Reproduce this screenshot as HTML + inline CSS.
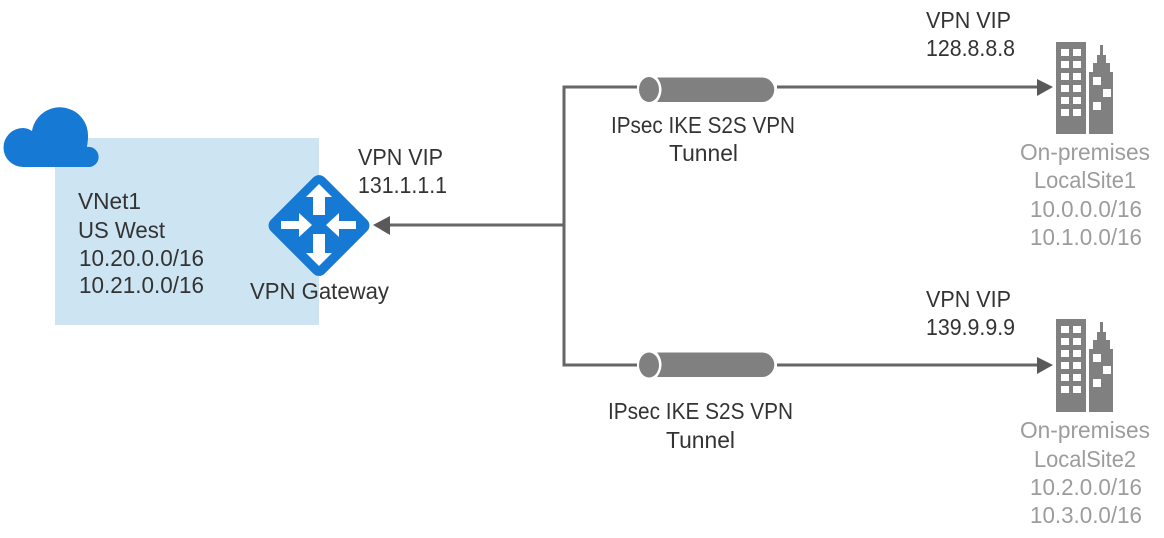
<!DOCTYPE html>
<html><head><meta charset="utf-8"><style>
html,body{margin:0;padding:0;background:#fff}
svg{display:block}
text{font-family:"Liberation Sans",sans-serif;font-size:23px;fill:#333}
text.g{fill:#9c9c9c}
</style></head><body>
<svg width="1164" height="538" viewBox="0 0 1164 538" xmlns="http://www.w3.org/2000/svg">
<rect x="55" y="138" width="264" height="187" fill="#cde4f3"/>
<path d="M23 167A19.500 19.500 0 0 1 23 128C26 128 29 129 32 131A28.200 28.200 0 0 1 88 137C88 140 87.500 143 87 147A10 10 0 0 1 90 167Z" fill="#1679d3"/>
<rect x="281" y="187.500" width="76" height="76" rx="8" transform="rotate(45 319 225.500)" fill="#1679d3"/>
<g fill="#fff">
<path d="M319 184L332 197H325V215H313V197H306Z"/>
<path d="M319 266L332 253H325V234H313V253H306Z"/>
<path d="M312 225L299 213V221H281V229H299V237Z"/>
<path d="M326 225L339 213V221H356V229H339V237Z"/>
</g>
<g fill="none" stroke="#666" stroke-width="3">
<path d="M637 87H564V365H637"/>
<path d="M564 225H385"/>
<path d="M777 87H1040"/>
<path d="M777 365H1040"/>
</g>
<g fill="#595959">
<path d="M373 225L390 216V235Z"/>
<path d="M1053 87L1037 79V96Z"/>
<path d="M1053 365L1037 357V374Z"/>
</g>
<g fill="#808080">
<ellipse cx="649" cy="89.500" rx="10" ry="12.500"/>
<path d="M657 77.500H762A12.200 12.200 0 0 1 762 102H657C663 94 663 85 657 77.500Z"/>
<ellipse cx="649" cy="365" rx="10" ry="12.500"/>
<path d="M657 352.500H762A12.200 12.200 0 0 1 762 377H657C663 369 663 360 657 352.500Z"/>
</g>
<g fill="#808080">
<rect x="1056" y="42" width="30" height="92"/>
<path d="M1089 134V72H1093V63H1097V55H1100V45H1103V55H1106V63H1110V72H1113V134Z"/>
</g>
<g fill="#fff">
<path d="M1061 49h8v7h-8zM1073 49h8v7h-8zM1061 61h8v7h-8zM1073 61h8v7h-8zM1061 73h8v7h-8zM1073 73h8v7h-8zM1061 85h8v7h-8zM1073 85h8v7h-8zM1061 97h8v7h-8zM1073 97h8v7h-8zM1061 109h8v7h-8zM1073 109h8v7h-8z"/>
<path d="M1093 77h8v8h-8zM1103 89h8v8h-8zM1093 102h8v8h-8z"/>
</g>
<g transform="translate(0,277)">
<g fill="#808080">
<rect x="1056" y="42" width="30" height="93"/>
<path d="M1089 135V72H1093V63H1097V55H1100V45H1103V55H1106V63H1110V72H1113V135Z"/>
</g>
<g fill="#fff">
<path d="M1061 49h8v7h-8zM1073 49h8v7h-8zM1061 61h8v7h-8zM1073 61h8v7h-8zM1061 73h8v7h-8zM1073 73h8v7h-8zM1061 85h8v7h-8zM1073 85h8v7h-8zM1061 97h8v7h-8zM1073 97h8v7h-8zM1061 109h8v7h-8zM1073 109h8v7h-8z"/>
<path d="M1093 77h8v8h-8zM1103 89h8v8h-8zM1093 102h8v8h-8z"/>
</g>
</g>
<text x="78" y="209" textLength="63" lengthAdjust="spacingAndGlyphs">VNet1</text>
<text x="78" y="238" textLength="87" lengthAdjust="spacingAndGlyphs">US West</text>
<text x="79" y="266" textLength="125" lengthAdjust="spacingAndGlyphs">10.20.0.0/16</text>
<text x="79" y="293" textLength="125" lengthAdjust="spacingAndGlyphs">10.21.0.0/16</text>
<text x="250" y="299" textLength="139" lengthAdjust="spacingAndGlyphs">VPN Gateway</text>
<text x="358" y="165" textLength="85" lengthAdjust="spacingAndGlyphs">VPN VIP</text>
<text x="358" y="193" textLength="89" lengthAdjust="spacingAndGlyphs">131.1.1.1</text>
<text x="611" y="133" textLength="184" lengthAdjust="spacingAndGlyphs">IPsec IKE S2S VPN</text>
<text x="669" y="161" textLength="69" lengthAdjust="spacingAndGlyphs">Tunnel</text>
<text x="608" y="419" textLength="185" lengthAdjust="spacingAndGlyphs">IPsec IKE S2S VPN</text>
<text x="666" y="448" textLength="69" lengthAdjust="spacingAndGlyphs">Tunnel</text>
<text x="926" y="28" textLength="85" lengthAdjust="spacingAndGlyphs">VPN VIP</text>
<text x="926" y="56" textLength="89" lengthAdjust="spacingAndGlyphs">128.8.8.8</text>
<text x="926" y="307" textLength="85" lengthAdjust="spacingAndGlyphs">VPN VIP</text>
<text x="926" y="335" textLength="89" lengthAdjust="spacingAndGlyphs">139.9.9.9</text>
<text class="g" x="1020" y="160" textLength="130" lengthAdjust="spacingAndGlyphs">On-premises</text>
<text class="g" x="1034" y="188" textLength="102" lengthAdjust="spacingAndGlyphs">LocalSite1</text>
<text class="g" x="1030" y="217" textLength="112" lengthAdjust="spacingAndGlyphs">10.0.0.0/16</text>
<text class="g" x="1030" y="245" textLength="112" lengthAdjust="spacingAndGlyphs">10.1.0.0/16</text>
<text class="g" x="1020" y="438" textLength="130" lengthAdjust="spacingAndGlyphs">On-premises</text>
<text class="g" x="1034" y="467" textLength="102" lengthAdjust="spacingAndGlyphs">LocalSite2</text>
<text class="g" x="1030" y="495" textLength="112" lengthAdjust="spacingAndGlyphs">10.2.0.0/16</text>
<text class="g" x="1030" y="523" textLength="112" lengthAdjust="spacingAndGlyphs">10.3.0.0/16</text>
</svg>
</body></html>
